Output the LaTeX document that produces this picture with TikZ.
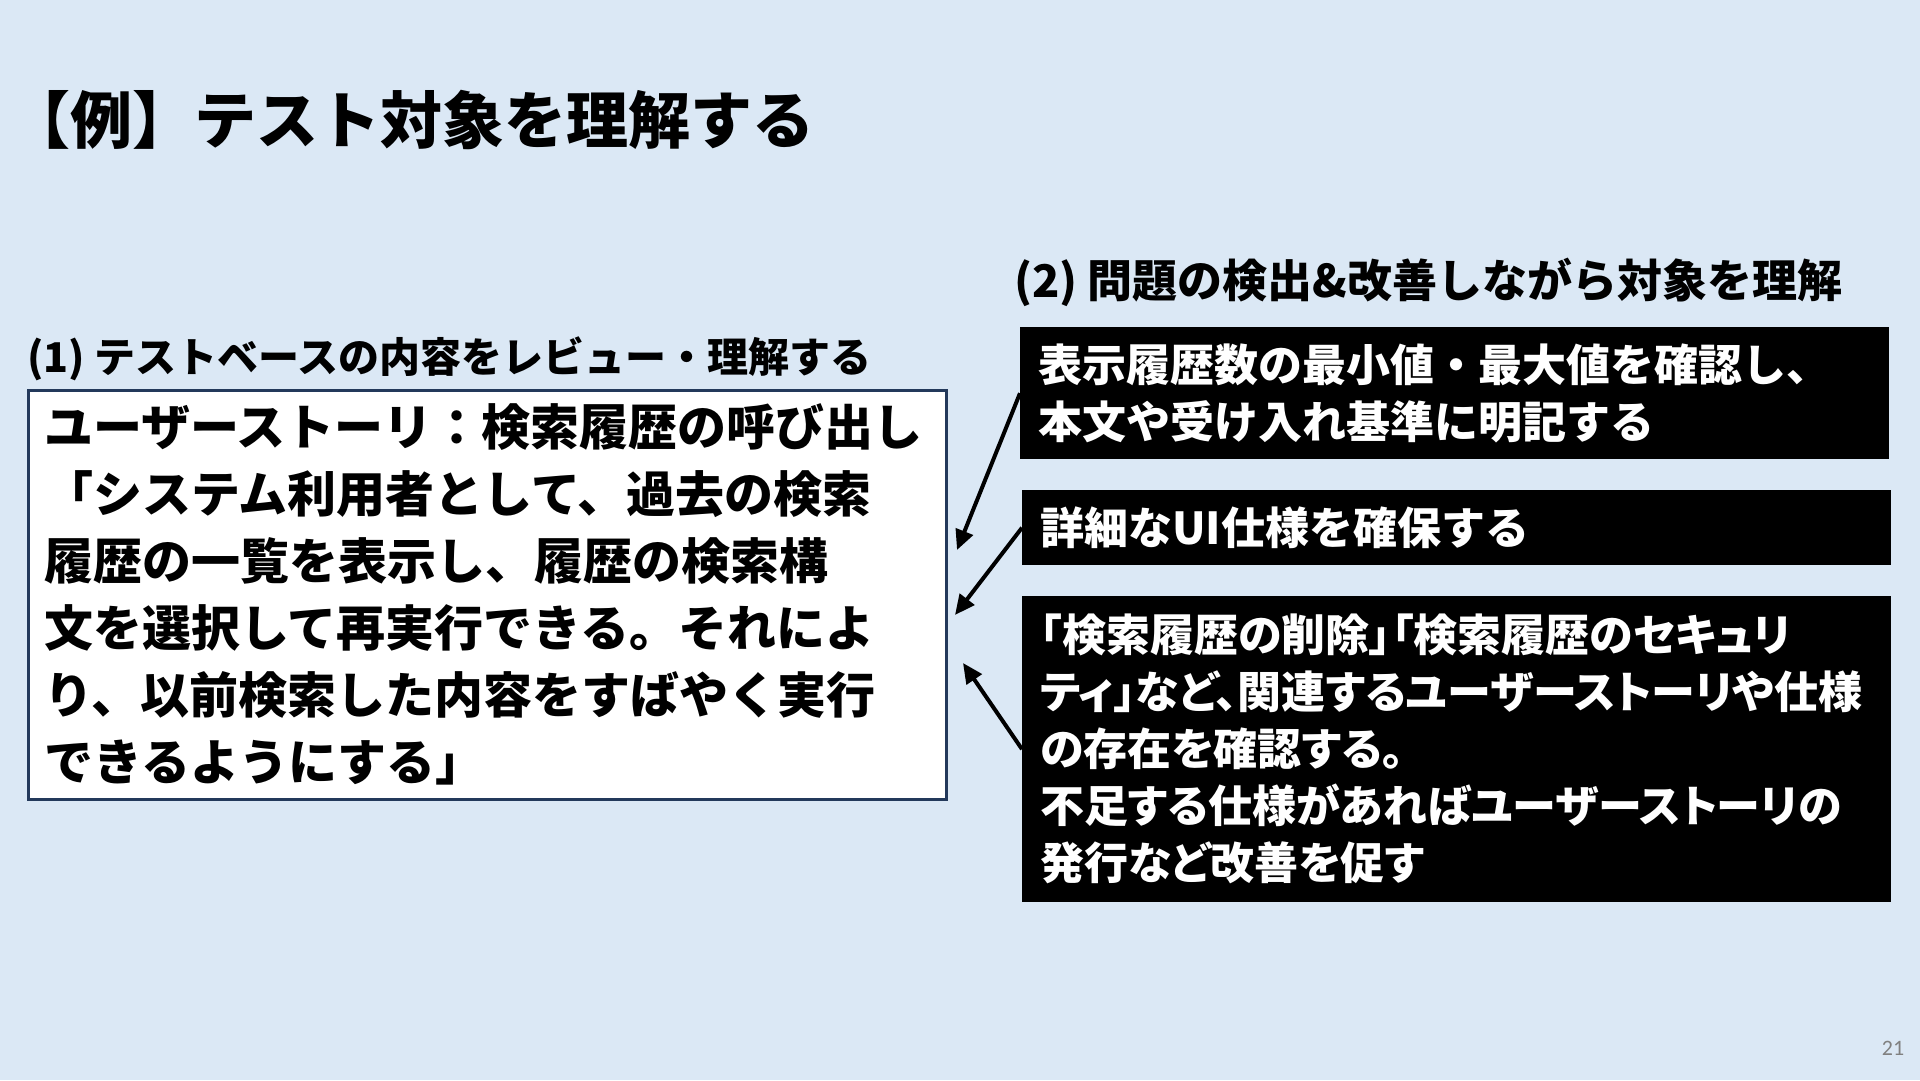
\documentclass[tikz,border=0pt]{standalone}
\usepackage{fontspec}
\setmainfont{Noto Sans CJK JP}
\newfontfamily\jpprop{Noto Sans CJK JP}[RawFeature=+palt]
\newfontfamily\pagefont{Carlito}
\usepackage{tikz}
\usetikzlibrary{arrows.meta}
\definecolor{slidebg}{HTML}{DBE8F5}
\definecolor{boxline}{HTML}{23395B}

\begin{document}
\begin{tikzpicture}[x=1pt,y=-1pt,
  heading/.style={anchor=west,inner sep=0pt,font=\bfseries\fontsize{41}{50}\selectfont},
  darkbox/.style={anchor=north west,fill=black,text=white,align=left,minimum width=869pt,
    text width=833pt,inner xsep=18pt,inner ysep=0pt,font=\bfseries\fontsize{44}{57}\selectfont},
  pointer/.style={line width=4pt,-{Triangle[length=20pt,width=18pt]}}]
 \fill[slidebg] (0,0) rectangle (1920,1080);
 \useasboundingbox (0,0) rectangle (1920,1080);
 % title
 \node[anchor=west,inner sep=0pt,font=\bfseries\fontsize{62}{70}\selectfont] (title) at (8,120)
  {【例】テスト対象を理解する};
 % left side
 \node[heading] (head1) at (27,359) {(1) テストベースの内容をレビュー・理解する};
 \node[anchor=north west,draw=boxline,line width=2.5pt,fill=white,minimum width=918pt,
  minimum height=409pt,text width=886pt,inner xsep=16pt,align=left,
  font=\bfseries\fontsize{49}{67}\selectfont] (story) at (27,389)
  {ユーザーストーリ：検索履歴の呼び出し\\
   「システム利用者として、過去の検索\\
   履歴の一覧を表示し、履歴の検索構\\
   文を選択して再実行できる。それによ\\
   り、以前検索した内容をすばやく実行\\
   できるようにする」};
 % right side
 \node[heading,font=\bfseries\fontsize{45}{50}\selectfont] (head2) at (1014,282)
  {(2) 問題の検出\&改善しながら対象を理解};
 \node[darkbox,minimum height=132pt] (b1) at (1020,327)
  {表示履歴数の最小値・最大値を確認し、\\
   本文や受け入れ基準に明記する};
 \node[darkbox,minimum height=75pt] (b2) at (1022,490)
  {詳細なUI仕様を確保する};
 \node[darkbox,minimum height=306pt,font=\jpprop\bfseries\fontsize{44}{57}\selectfont] (b3) at (1022,596)
  {「検索履歴の削除」「検索履歴のセキュリ\\
   ティ」など、関連するユーザーストーリや仕様\\
   の存在を確認する。\\
   不足する仕様があればユーザーストーリの\\
   発行など改善を促す};
 % arrows
 \coordinate (t1) at (957,550);
 \coordinate (t2) at (955,615);
 \coordinate (t3) at (963,663);
 \draw[pointer] (b1.west) -- (t1);
 \draw[pointer] (b2.west) -- (t2);
 \draw[pointer] (b3.west) -- (t3);
 \node[font=\pagefont\fontsize{22}{24}\selectfont,text=gray] (pnum) at (1893,1048) {21};
\end{tikzpicture}
\end{document}
